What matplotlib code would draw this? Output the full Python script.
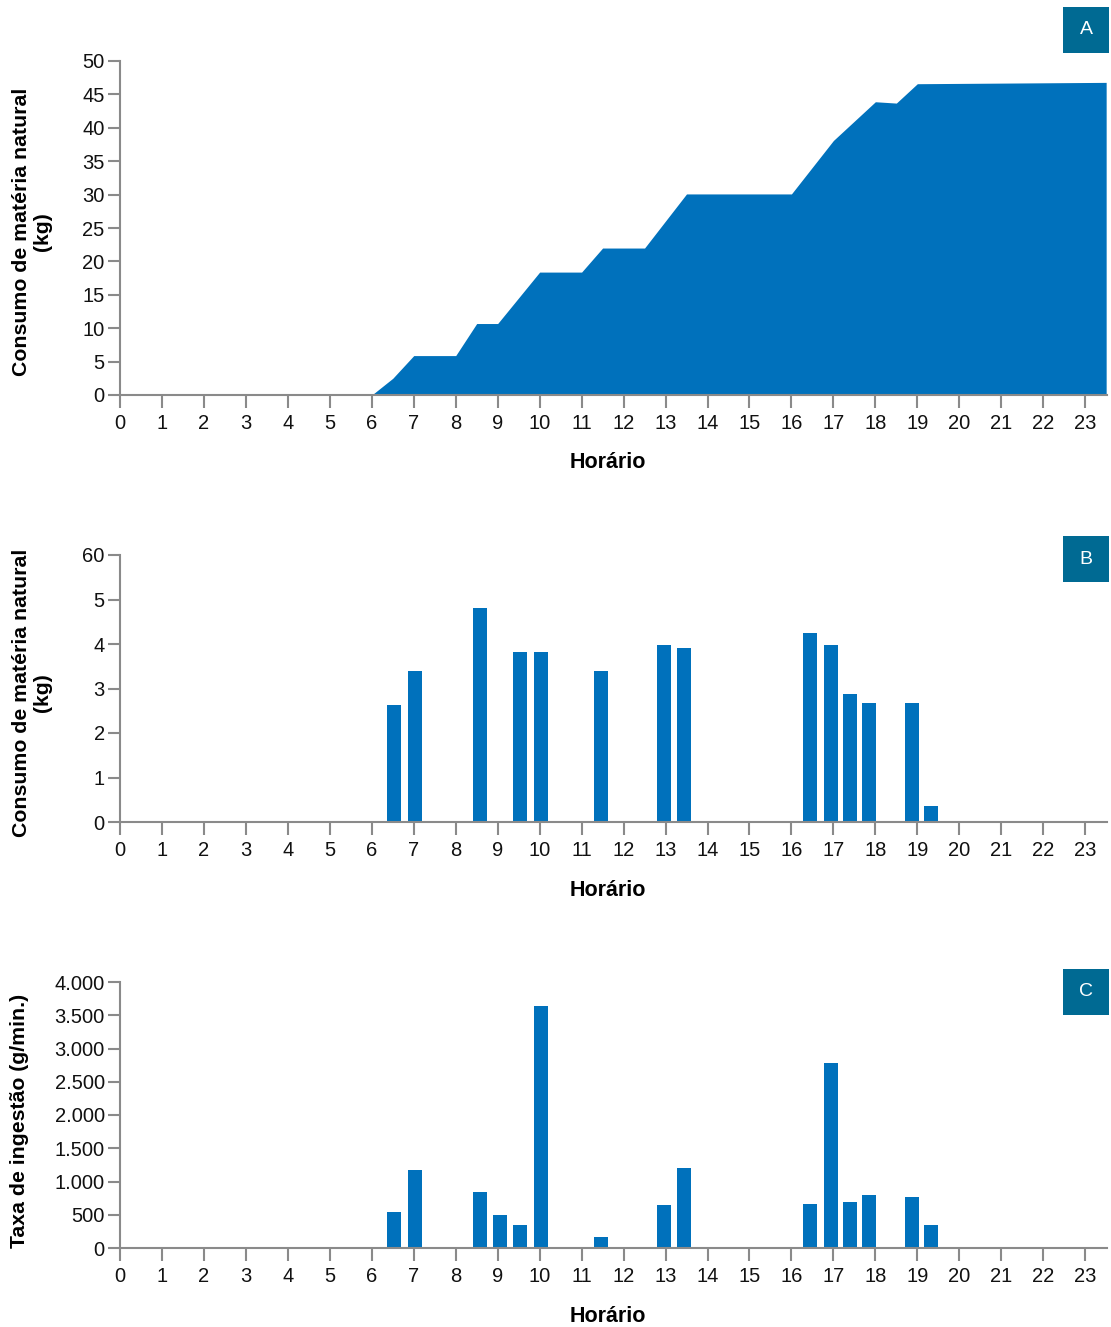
import matplotlib
matplotlib.use("Agg")
import matplotlib.pyplot as plt
from matplotlib.patches import Rectangle

plt.rcParams['font.family'] = ['Liberation Sans', 'DejaVu Sans']

# ---- Data ----
hours = list(range(0, 24))
hour_labels = [str(h) for h in hours]

# Panel A: cumulative consumption (kg)
cum_x = [0, 6, 6.5, 7, 8, 8.5, 9, 10, 11, 11.5, 12.5, 13.5, 16, 17, 18, 18.5, 19, 23.5]
cum_y = [0, 0, 2.5, 5.9, 5.9, 10.7, 10.7, 18.4, 18.4, 22.0, 22.0, 30.1, 30.1, 38.1, 43.9, 43.7, 46.6, 46.8]
a_yticks = [0, 5, 10, 15, 20, 25, 30, 35, 40, 45, 50]
a_ylabels = [str(v) for v in a_yticks]

# Panel B: consumption per meal (kg)
b_x = [6.52, 7.04, 8.57, 9.53, 10.03, 11.46, 12.96, 13.44, 16.44, 16.94, 17.39, 17.86, 18.88, 19.33]
b_y = [2.62, 3.39, 4.8, 3.82, 3.82, 3.39, 3.98, 3.91, 4.25, 3.98, 2.87, 2.67, 2.67, 0.35]
b_yticks = [0, 1, 2, 3, 4, 5, 6]
b_ylabels = ['0', '1', '2', '3', '4', '5', '60']

# Panel C: ingestion rate (g/min)
c_x = [6.52, 7.04, 8.57, 9.05, 9.53, 10.03, 11.46, 12.96, 13.44, 16.44, 16.94, 17.39, 17.86, 18.88, 19.33]
c_y = [545, 1180, 840, 500, 350, 3640, 170, 640, 1210, 665, 2780, 695, 790, 760, 350]
c_yticks = [0, 500, 1000, 1500, 2000, 2500, 3000, 3500, 4000]
c_ylabels = ['0', '500', '1.000', '1.500', '2.000', '2.500', '3.000', '3.500', '4.000']

BLUE = '#0071BC'
BOX = '#006A93'
GRAY = '#8a8a8a'

W, H = 1111, 1327
fig = plt.figure(figsize=(W / 100, H / 100), dpi=100)

def px_axes(left, top, right, bottom):
    return fig.add_axes([left / W, 1 - bottom / H, (right - left) / W, (bottom - top) / H])

def style(ax, yticks, ylabels, ymax, xlabel_y):
    ax.set_xlim(0, 23.52)
    ax.set_ylim(0, ymax)
    ax.set_xticks(hours)
    ax.set_xticklabels(hour_labels)
    ax.set_yticks(yticks)
    ax.set_yticklabels(ylabels)
    for s in ['top', 'right']:
        ax.spines[s].set_visible(False)
    for s in ['left', 'bottom']:
        ax.spines[s].set_color(GRAY)
        ax.spines[s].set_linewidth(1.5)
    ax.tick_params(axis='both', colors=GRAY, labelcolor='#111111', length=9, width=1.5,
                   labelsize=14.5, direction='out')
    ax.tick_params(axis='x', pad=4.5)
    ax.tick_params(axis='y', pad=2)
    fig.text(608 / W, 1 - xlabel_y / H, 'Horário', fontsize=15.5, fontweight='bold',
             ha='center', va='center')

def badge(top, letter):
    fig.patches.append(Rectangle((1063 / W, 1 - (top + 46) / H), 46 / W, 46 / H,
                                 transform=fig.transFigure, facecolor=BOX, edgecolor='none'))
    fig.text(1086 / W, 1 - (top + 23) / H, letter, color='white', fontsize=14,
             ha='center', va='center')

# Panel A
axA = px_axes(120, 61, 1107, 395)
axA.fill_between(cum_x, cum_y, 0, color=BLUE, linewidth=0)
style(axA, a_yticks, a_ylabels, 50, 463)
fig.text(32 / W, 1 - 232 / H, 'Consumo de matéria natural\n(kg)', rotation=90,
         ha='center', va='center', fontsize=15.3, fontweight='bold', linespacing=1.15)
badge(7, 'A')

# Panel B
axB = px_axes(120, 555, 1107, 822)
axB.bar(b_x, b_y, width=0.334, color=BLUE, linewidth=0)
style(axB, b_yticks, b_ylabels, 6, 890)
fig.text(32 / W, 1 - 693 / H, 'Consumo de matéria natural\n(kg)', rotation=90,
         ha='center', va='center', fontsize=15.3, fontweight='bold', linespacing=1.15)
badge(536, 'B')

# Panel C
axC = px_axes(120, 982, 1107, 1248)
axC.bar(c_x, c_y, width=0.334, color=BLUE, linewidth=0)
style(axC, c_yticks, c_ylabels, 4000, 1317)
fig.text(20 / W, 1 - 1121 / H, 'Taxa de ingestão (g/min.)', rotation=90,
         ha='center', va='center', fontsize=15.3, fontweight='bold')
badge(969, 'C')

fig.savefig('out.png', dpi=100)
